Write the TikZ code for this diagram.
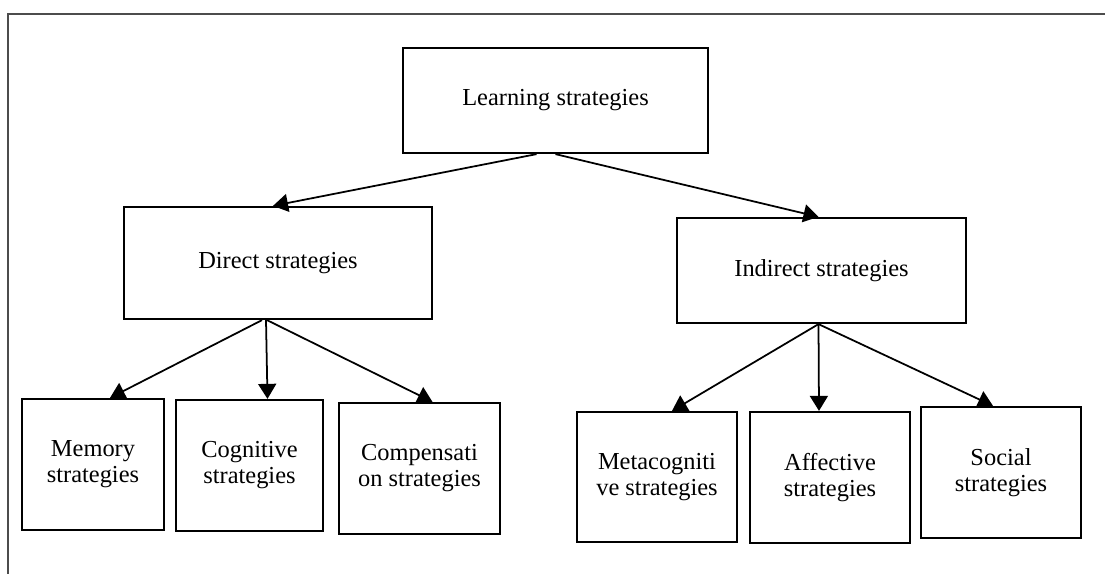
\documentclass[tikz,border=0pt]{standalone}
\usepackage{fontspec}
\setmainfont{Liberation Serif}
\usetikzlibrary{calc,arrows.meta}

\begin{document}
\begin{tikzpicture}[x=0.02cm,y=-0.02cm,
    stratbox/.style={draw,line width=1.3pt,align=center,inner sep=0pt,
      font=\fontsize{13.9pt}{14.8pt}\selectfont},
    link/.style={line width=1pt,-{Triangle[length=0.3cm,width=0.36cm]}}]
    \useasboundingbox (0,0) rectangle (1105,574);
    % frame
    \draw[line width=1.2pt,black!70] (1105,14) -- (8,14) -- (8,574);
    % top levels
    \node[stratbox,minimum width=6.1cm,minimum height=2.1cm] (learn) at (555.5,100.5) {Learning strategies};
    \node[stratbox,minimum width=6.16cm,minimum height=2.24cm] (direct) at (278,263) {Direct strategies};
    \node[stratbox,minimum width=5.78cm,minimum height=2.1cm] (indirect) at (821.5,270.5) {Indirect strategies};
    % bottom level
    \node[stratbox,minimum width=2.84cm,minimum height=2.62cm] (memory) at (93,464.5) {Memory\\strategies};
    \node[stratbox,minimum width=2.94cm,minimum height=2.62cm] (cognitive) at (249.5,465.5) {Cognitive\\strategies};
    \node[stratbox,minimum width=3.22cm,minimum height=2.62cm] (compens) at (419.5,468.5) {Compensati\\on strategies};
    \node[stratbox,minimum width=3.2cm,minimum height=2.6cm] (metacog) at (657,477) {Metacogniti\\ve strategies};
    \node[stratbox,minimum width=3.2cm,minimum height=2.62cm] (affective) at (830,477.5) {Affective\\strategies};
    \node[stratbox,minimum width=3.2cm,minimum height=2.62cm] (social) at (1001,472.5) {Social\\strategies};
    % arrows
    \draw[link] ($(learn.south)+(-19,0)$) -- ($(direct.north)+(-5,0)$);
    \draw[link] (learn.south) -- ($(indirect.north)+(-3,0)$);
    \draw[link] ($(direct.south)+(-16,0)$) -- ($(memory.north)+(17,0)$);
    \draw[link] ($(direct.south)+(-12,0)$) -- ($(cognitive.north)+(18,0)$);
    \draw[link] ($(direct.south)+(-11,0)$) -- ($(compens.north)+(13,0)$);
    \draw[link] ($(indirect.south)+(-3,0)$) -- ($(metacog.north)+(15,0)$);
    \draw[link] ($(indirect.south)+(-3,0)$) -- ($(affective.north)+(-11,0)$);
    \draw[link] ($(indirect.south)+(-3,0)$) -- ($(social.north)+(-8,0)$);
\end{tikzpicture}
\end{document}
